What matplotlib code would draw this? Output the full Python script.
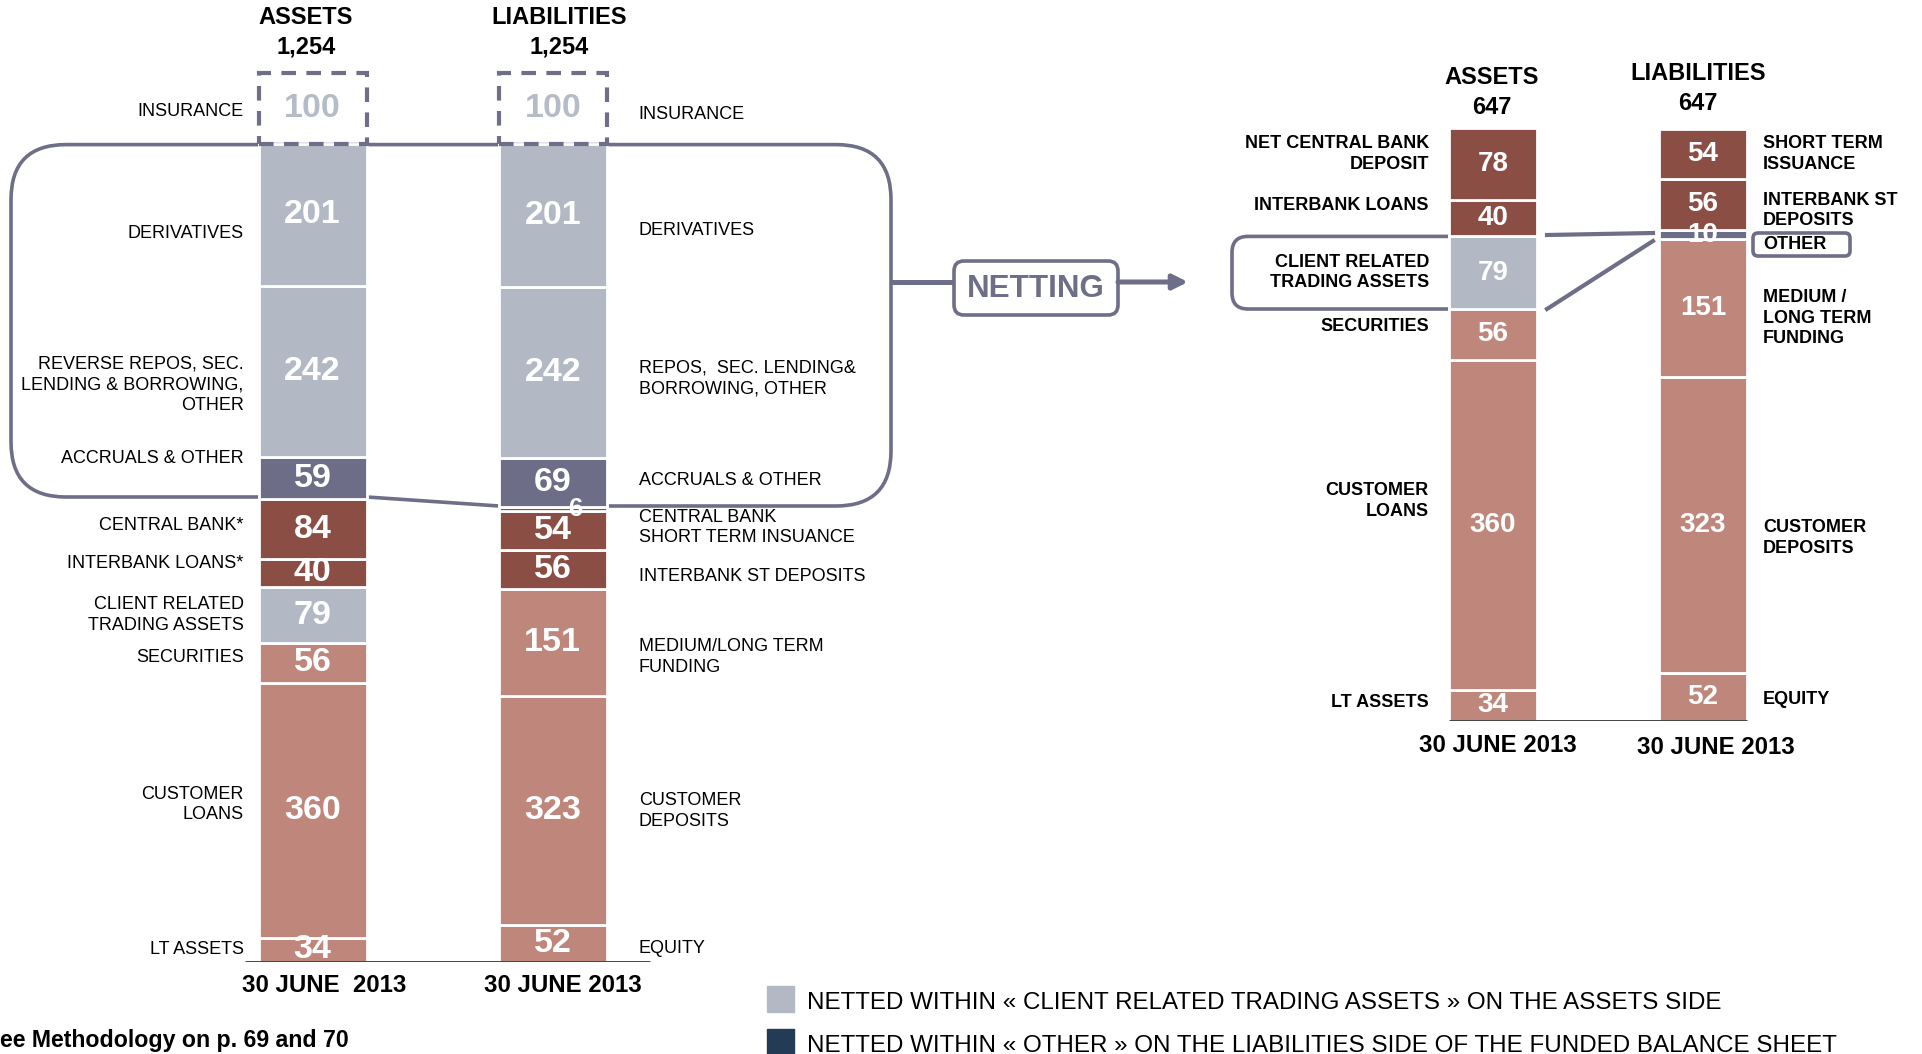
import matplotlib
matplotlib.use('Agg')
import matplotlib.pyplot as plt
from matplotlib.patches import Rectangle, FancyBboxPatch, PathPatch
from matplotlib.path import Path
import numpy as np

plt.rcParams['font.family'] = ['Liberation Sans', 'DejaVu Sans']
NUM_FONT = ['Liberation Sans Narrow', 'Liberation Sans', 'DejaVu Sans']

# ---- data (stacked from the bottom up) ----
gross_asset_names = ['LT ASSETS', 'CUSTOMER\nLOANS', 'SECURITIES', 'CLIENT RELATED\nTRADING ASSETS',
                     'INTERBANK LOANS*', 'CENTRAL BANK*', 'ACCRUALS & OTHER',
                     'REVERSE REPOS, SEC.\nLENDING & BORROWING,\nOTHER', 'DERIVATIVES', 'INSURANCE']
gross_asset_values = [34, 360, 56, 79, 40, 84, 59, 242, 201, 100]
gross_asset_kind = ['funded', 'funded', 'funded', 'trading', 'bank', 'bank', 'other', 'trading', 'trading', 'ins']

gross_liab_names = ['EQUITY', 'CUSTOMER\nDEPOSITS', 'MEDIUM/LONG TERM\nFUNDING', 'INTERBANK ST DEPOSITS',
                    'CENTRAL BANK\nSHORT TERM INSUANCE', '', 'ACCRUALS & OTHER',
                    'REPOS,  SEC. LENDING&\nBORROWING, OTHER', 'DERIVATIVES', 'INSURANCE']
gross_liab_values = [52, 323, 151, 56, 54, 6, 69, 242, 201, 100]
gross_liab_kind = ['funded', 'funded', 'funded', 'bank', 'bank', 'bank', 'other', 'trading', 'trading', 'ins']

net_asset_names = ['LT ASSETS', 'CUSTOMER\nLOANS', 'SECURITIES', 'CLIENT RELATED\nTRADING ASSETS',
                   'INTERBANK LOANS', 'NET CENTRAL BANK\nDEPOSIT']
net_asset_values = [34, 360, 56, 79, 40, 78]
net_asset_kind = ['funded', 'funded', 'funded', 'trading', 'bank', 'bank']

net_liab_names = ['EQUITY', 'CUSTOMER\nDEPOSITS', 'MEDIUM /\nLONG TERM\nFUNDING', 'OTHER',
                  'INTERBANK ST\nDEPOSITS', 'SHORT TERM\nISSUANCE']
net_liab_values = [52, 323, 151, 10, 56, 54]
net_liab_kind = ['funded', 'funded', 'funded', 'other', 'bank', 'bank']

gross_total = '1,254'
net_total = '647'
date_label = '30 JUNE 2013'
legend_texts = ['NETTED WITHIN « CLIENT RELATED TRADING ASSETS » ON THE ASSETS SIDE',
                'NETTED WITHIN « OTHER » ON THE LIABILITIES SIDE OF THE FUNDED BALANCE SHEET']

colors = {'funded': '#bf877b', 'trading': '#b2b9c5', 'bank': '#8b4e45', 'other': '#6d6d87', 'ins': 'none'}
slate = '#6e6e88'
navy = '#243b55'

# label nudges in pixels (down is positive), layout only
gross_asset_dy = [0, -6, -5, 0, -9, -4, -20, 13, 19, 3]
gross_liab_dy = [5, 0, 14, 7, -3, 0, -2, 6, 15, 6]
net_asset_dy = [-3, -24, -8, 0, -13, -10]
net_liab_dy = [3, 13, 10, 10, 6, 0]

W, H = 1922, 1054
fig = plt.figure(figsize=(W / 100, H / 100), dpi=100)

# overlay in pixel coordinates for headers, boxes, arrows
ax0 = fig.add_axes([0, 0, 1, 1])
ax0.set_xlim(0, W)
ax0.set_ylim(H, 0)
ax0.axis('off')


def bar_axes(base_px, px_per_unit):
    ax = fig.add_axes([0, (H - base_px) / H, 1, base_px / H])
    ax.set_xlim(0, W)
    ax.set_ylim(0, base_px / px_per_unit)
    ax.patch.set_alpha(0)
    ax.axis('off')
    return ax


def stack(ax, x, width, values, kinds, names, dy, side, num_size, lab_size, lab_bold, lab_gap):
    vals = np.array(values)
    bottoms = np.concatenate([[0], np.cumsum(vals)[:-1]])
    for v, b, k, name, d in zip(vals, bottoms, kinds, names, dy):
        if k == 'ins':
            ax.bar(x, v, bottom=b, width=width, fill=False, edgecolor=slate,
                   linewidth=3, linestyle=(0, (3.5, 2.5)), zorder=3)
            tcol = '#b4bcc8'
        else:
            ax.bar(x, v, bottom=b, width=width, color=colors[k], edgecolor='white',
                   linewidth=2, zorder=3)
            tcol = 'white'
        dx = 22 if v < 8 else 0
        fs = num_size * 0.75 if v < 8 else num_size
        ax.annotate(str(v), xy=(x, b + v / 2), xytext=(dx, 0), textcoords='offset pixels',
                    ha='center', va='center', color=tcol, fontsize=fs, fontweight='bold',
                    family=NUM_FONT, zorder=5)
        if name:
            if side == 'left':
                ax.annotate(name, xy=(x - width / 2, b + v / 2), xytext=(-lab_gap, -d),
                            textcoords='offset pixels', ha='right', va='center',
                            fontsize=lab_size, fontweight='bold' if lab_bold else 'normal',
                            linespacing=1.28, multialignment='right')
            else:
                ax.annotate(name, xy=(x + width / 2, b + v / 2), xytext=(lab_gap, -d),
                            textcoords='offset pixels', ha='left', va='center',
                            fontsize=lab_size, fontweight='bold' if lab_bold else 'normal',
                            linespacing=1.28, multialignment='left')


# ---- left (gross) chart ----
ax_l = bar_axes(962, 0.7086)
stack(ax_l, 312.6, 108, gross_asset_values, gross_asset_kind, gross_asset_names, gross_asset_dy,
      'left', 24.5, 13, False, 15)
stack(ax_l, 552.8, 108, gross_liab_values, gross_liab_kind, gross_liab_names, gross_liab_dy,
      'right', 24.5, 13, False, 32)
ax_l.hlines(0, 245, 650, color='#333333', linewidth=2, zorder=4)

# ---- right (funded) chart ----
ax_r = bar_axes(720.8, 0.9157)
stack(ax_r, 1493, 88, net_asset_values, net_asset_kind, net_asset_names, net_asset_dy,
      'left', 20, 13, True, 20)
stack(ax_r, 1703, 88, net_liab_values, net_liab_kind, net_liab_names, net_liab_dy,
      'right', 20, 13, True, 16)
ax_r.hlines(0, 1449, 1747, color='#333333', linewidth=2, zorder=4)

# headers
for x, y, t in [(306, 18, 'ASSETS'), (306, 47, gross_total), (559, 18, 'LIABILITIES'), (559, 47, gross_total),
                (1492, 78, 'ASSETS'), (1492, 107, net_total), (1698, 74, 'LIABILITIES'), (1698, 103, net_total)]:
    ax0.text(x, y, t, ha='center', va='center', fontsize=17, fontweight='bold')

for x, y, t in [(324, 985, '30 JUNE  2013'), (563, 985, date_label),
                (1498, 746, date_label), (1716, 748, date_label)]:
    ax0.text(x, y, t, ha='center', va='center', fontsize=17.3, fontweight='bold')

# big rounded bracket around the netted items
r = 55
top, lb, rb, xl, xr = 144.6, 497, 506, 11, 891
verts = [(xl + r, top), (xr - r, top), (xr, top), (xr, top + r), (xr, rb - r), (xr, rb), (xr - r, rb),
         (499, rb), (367, lb), (xl + r, lb), (xl, lb), (xl, lb - r), (xl, top + r), (xl, top), (xl + r, top)]
codes = [Path.MOVETO, Path.LINETO, Path.CURVE3, Path.CURVE3, Path.LINETO, Path.CURVE3, Path.CURVE3,
         Path.LINETO, Path.LINETO, Path.LINETO, Path.CURVE3, Path.CURVE3, Path.LINETO, Path.CURVE3, Path.CURVE3]
ax0.add_patch(PathPatch(Path(verts, codes), fill=False, edgecolor=slate, linewidth=2.6))

# netting box and arrow
ax0.plot([891, 954], [282, 282], color=slate, linewidth=3.6, solid_capstyle='butt')
ax0.add_patch(FancyBboxPatch((954, 261), 164, 54, boxstyle='round,pad=0,rounding_size=10',
                             fill=False, edgecolor=slate, linewidth=2.6))
ax0.text(1036, 289, 'NETTING', ha='center', va='center', fontsize=22.6, fontweight='bold', color=slate)
ax0.annotate('', xy=(1188, 282), xytext=(1118, 282),
             arrowprops=dict(arrowstyle='-|>', color=slate, lw=3.6, mutation_scale=22, shrinkA=0, shrinkB=0))

# client related bracket on the funded chart
r2 = 16
t2, b2, x2, xe = 236.4, 309, 1232, 1449
verts2 = [(xe, t2), (x2 + r2, t2), (x2, t2), (x2, t2 + r2), (x2, b2 - r2), (x2, b2), (x2 + r2, b2), (xe, b2)]
codes2 = [Path.MOVETO, Path.LINETO, Path.CURVE3, Path.CURVE3, Path.LINETO, Path.CURVE3, Path.CURVE3, Path.LINETO]
ax0.add_patch(PathPatch(Path(verts2, codes2), fill=False, edgecolor=slate, linewidth=2.6))
ax0.plot([1547, 1653], [235, 233], color=slate, linewidth=3)
ax0.plot([1547, 1653], [309, 241], color=slate, linewidth=3)
ax0.add_patch(FancyBboxPatch((1753, 233), 97, 23, boxstyle='round,pad=0,rounding_size=5',
                             fill=False, edgecolor=slate, linewidth=2.6))

# legend
for y, c, t in [(999, colors['trading'], legend_texts[0]), (1042, navy, legend_texts[1])]:
    ax0.add_patch(Rectangle((767, y - 13), 27, 26, color=c))
    ax0.text(807, y + 4, t, ha='left', va='center', fontsize=17.4)

ax0.text(0, 1041, 'ee Methodology on p. 69 and 70', ha='left', va='center', fontsize=16.7, fontweight='bold')

fig.savefig('out.png', dpi=100)
